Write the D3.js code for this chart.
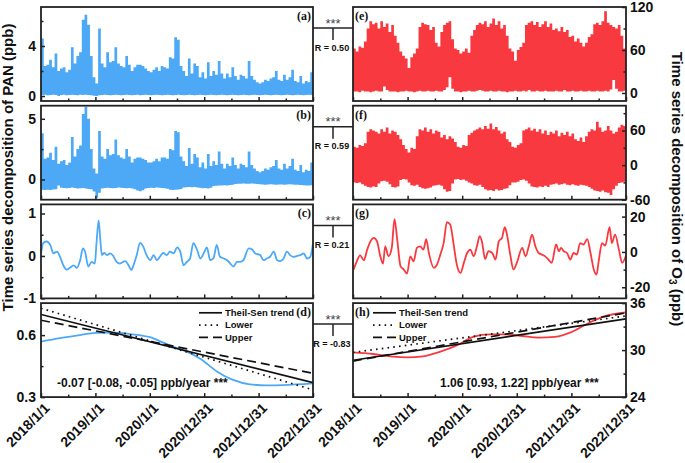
<!DOCTYPE html>
<html lang="en">
<head>
<meta charset="UTF-8">
<title>Time series decomposition of PAN and O3</title>
<script src="https://d3js.org/d3.v7.min.js"></script>
<style>
  body { margin: 0; background: #fff; }
  text { font-family: Arial, "Liberation Sans", sans-serif; font-weight: bold; fill: #111; }
  .tick text { font: bold 14px Arial, "Liberation Sans", sans-serif; fill: #111; }
  .tick line { stroke: #222; stroke-width: 1.5; }
  .plabel { font-family: "Times New Roman", "Liberation Serif", serif; font-size: 12px; }
</style>
</head>
<body>
<svg width="685" height="463"></svg>
<script>
// x tick labels (dates)
const tickLabels = ["2018/1/1", "2019/1/1", "2020/1/1", "2020/12/31", "2021/12/31", "2022/12/31"];

// (a) PAN observed, per-bin max / min (100 bins over 2018-2022, ppb)
const panObsHi = [4.6,2.4,2.5,2.9,2.3,3.4,2.0,2.2,2.3,1.9,
  2.1,3.9,2.6,3.2,3.5,6.1,6.5,5.7,3.2,1.5,
  1.0,5.4,2.6,2.3,3.5,2.7,2.8,3.9,2.6,2.4,
  2.3,3.2,2.5,2.0,2.3,2.5,2.5,2.4,2.2,2.0,
  1.9,2.1,2.3,2.0,2.4,2.3,2.2,3.1,3.0,4.7,
  4.5,2.4,2.0,1.6,3.0,1.8,2.6,2.4,1.5,1.9,
  1.4,2.7,1.6,2.0,1.7,2.8,1.8,1.4,1.8,1.5,
  2.3,1.6,1.3,1.7,1.6,1.4,2.8,1.6,1.3,1.1,
  1.0,1.1,1.3,1.2,1.4,1.5,2.0,1.3,1.2,1.7,
  1.3,1.5,2.1,1.2,1.1,1.6,1.0,1.2,1.1,1.9];
const panObsLo = [0.08,0.1,0.06,0.08,0.1,0.08,0.0,0.08,0.1,0.06,
  0.08,0.1,0.08,0.06,0.1,0.08,0.1,0.08,0.06,0.02,
  0.0,0.06,0.08,0.1,0.08,0.06,0.08,0.1,0.08,0.06,
  0.08,0.1,0.08,0.06,0.08,0.1,0.06,0.08,0.1,0.08,
  0.06,0.08,0.1,0.08,0.06,0.08,0.1,0.08,0.06,0.08,
  0.1,0.08,0.06,0.08,0.1,0.08,0.06,0.08,0.1,0.08,
  0.06,0.08,0.1,0.08,0.06,0.08,0.1,0.08,0.06,0.08,
  0.1,0.08,0.06,0.08,0.1,0.08,0.06,0.08,0.1,0.08,
  0.06,0.08,0.1,0.08,0.06,0.08,0.1,0.08,0.06,0.08,
  0.1,0.08,0.06,0.08,0.1,0.08,0.06,0.08,0.1,0.08];

// (b) PAN detrended (seasonal + residual)
const panDecHi = [3.8,1.7,1.8,2.2,1.6,2.7,1.3,1.5,1.6,1.2,
  1.4,3.5,1.9,2.5,2.8,5.4,6.0,5.0,2.5,0.9,
  0.5,4.0,1.9,1.7,2.5,2.0,2.1,3.3,2.0,1.8,
  1.7,2.5,1.9,1.4,1.7,1.8,1.8,1.7,1.6,1.4,
  1.4,1.5,1.7,1.5,1.8,1.8,1.7,2.5,2.4,4.0,
  3.9,1.9,1.5,1.1,2.6,1.3,2.1,1.8,1.0,1.4,
  0.9,2.1,1.1,1.5,1.2,2.3,1.3,0.9,1.3,1.1,
  1.8,1.2,0.9,1.3,1.2,1.0,2.3,1.2,0.9,0.7,
  0.6,0.7,0.9,0.8,1.0,1.1,1.6,0.9,0.8,1.3,
  0.9,1.1,1.7,0.8,0.7,1.2,0.6,0.8,0.7,1.4];
const panDecLo = [-0.85,-0.88,-0.84,-0.86,-0.82,-0.8,-0.5,-0.68,-0.7,-0.72,
  -0.7,-0.66,-0.7,-0.74,-0.72,-0.7,-0.75,-0.78,-0.8,-1.0,
  -1.5,-1.1,-0.75,-0.7,-0.68,-0.7,-0.72,-0.7,-0.66,-0.68,
  -0.7,-0.72,-0.7,-0.74,-0.8,-0.92,-0.97,-0.9,-0.75,-0.7,
  -0.68,-0.7,-0.66,-0.68,-0.7,-0.72,-0.76,-0.84,-0.86,-0.85,
  -0.82,-0.78,-0.66,-0.64,-0.62,-0.65,-0.63,-0.66,-0.68,-0.72,
  -0.7,-0.74,-0.68,-0.55,-0.52,-0.5,-0.5,-0.48,-0.5,-0.46,
  -0.44,-0.38,-0.36,-0.35,-0.34,-0.36,-0.35,-0.33,-0.36,-0.38,
  -0.4,-0.42,-0.44,-0.42,-0.4,-0.42,-0.43,-0.41,-0.42,-0.44,
  -0.42,-0.4,-0.42,-0.43,-0.44,-0.45,-0.48,-0.5,-0.5,-0.48];

// (c) PAN smoothed residual: decimal year, value
const panResYear = [2018.00,2018.04,2018.10,2018.17,2018.23,2018.29,2018.35,2018.41,2018.47,2018.53,
  2018.60,2018.66,2018.72,2018.77,2018.81,2018.87,2018.93,2018.99,2019.02,2019.06,
  2019.09,2019.12,2019.16,2019.21,2019.27,2019.33,2019.39,2019.45,2019.55,2019.61,
  2019.66,2019.70,2019.76,2019.82,2019.88,2019.94,2020.01,2020.07,2020.13,2020.19,
  2020.25,2020.31,2020.37,2020.44,2020.50,2020.56,2020.62,2020.68,2020.74,2020.80,
  2020.87,2020.93,2020.99,2021.05,2021.11,2021.17,2021.23,2021.29,2021.36,2021.42,
  2021.48,2021.54,2021.60,2021.66,2021.72,2021.82,2021.88,2021.94,2022.03,2022.09,
  2022.15,2022.21,2022.28,2022.34,2022.40,2022.46,2022.52,2022.58,2022.64,2022.71,
  2022.77,2022.83,2022.89,2022.95,2023.00];
const panResValue = [0.06,0.30,0.34,0.26,0.06,0.10,-0.02,-0.22,-0.32,-0.28,
  -0.22,-0.28,-0.10,0.18,0.10,-0.25,-0.14,-0.18,0.30,0.84,
  0.38,0.02,0.07,0.02,0.06,0.00,-0.14,-0.18,-0.12,-0.22,
  -0.33,-0.22,0.02,0.31,0.22,0.02,-0.10,0.02,-0.10,-0.01,
  0.07,0.02,0.10,0.06,0.20,0.10,-0.22,-0.14,-0.06,0.30,
  0.14,-0.06,0.06,0.20,-0.10,-0.06,0.26,-0.02,-0.06,-0.10,
  -0.18,-0.25,-0.14,-0.14,-0.10,0.18,0.15,0.06,0.02,-0.10,
  -0.06,-0.02,0.10,-0.10,-0.12,-0.06,0.10,0.02,-0.02,0.00,
  0.02,0.06,-0.06,-0.02,0.30];

// (d) PAN trend component
const panTrendYear = [2018.0,2018.35,2018.72,2019.0,2019.36,2019.64,2020.0,2020.28,2020.55,2020.68,
  2020.92,2021.24,2021.53,2021.84,2022.15,2022.45,2023.0];
const panTrendValue = [0.568,0.585,0.600,0.611,0.612,0.605,0.590,0.560,0.532,0.520,
  0.487,0.423,0.383,0.362,0.357,0.358,0.366];

// (e) O3 observed, per-bin max / min (ppb)
const o3ObsHi = [62,58,65,63,72,90,100,96,98,90,
  100,92,97,85,95,80,70,58,52,48,
  35,50,55,62,92,98,96,95,88,92,
  70,65,85,95,98,100,75,62,60,55,
  58,62,56,80,88,95,98,96,100,92,
  97,104,95,100,90,95,80,62,58,45,
  60,64,70,95,98,100,95,99,92,96,
  100,92,97,88,90,86,92,85,88,78,
  80,72,76,70,65,70,78,82,96,98,
  95,100,114,98,95,92,90,95,80,62];
const o3ObsLo = [2,2,1,3,2,2,1,2,3,2,
  2,9,4,2,2,2,1,2,2,3,
  2,2,1,2,3,2,2,3,2,2,
  3,2,2,4,8,22,6,2,2,1,
  2,2,3,2,2,3,4,3,2,2,
  3,2,2,3,2,2,1,2,2,3,
  2,2,3,2,4,2,2,3,2,2,
  3,2,2,2,3,2,2,4,2,2,
  3,2,2,3,2,2,3,2,2,3,
  2,2,3,2,5,18,6,2,2,3];

// (f) O3 detrended (seasonal + residual)
const o3DecHi = [32,30,35,33,38,58,62,60,58,55,
  62,58,65,55,60,58,52,45,35,28,
  22,30,28,50,62,60,65,58,62,55,
  60,58,48,52,45,50,46,40,32,30,
  35,33,52,56,60,62,65,62,68,63,
  72,62,66,60,55,58,45,40,32,30,
  35,38,60,62,65,60,63,58,62,55,
  60,52,58,55,60,50,56,52,58,50,
  55,45,42,48,40,50,58,62,60,75,
  65,58,60,68,60,55,58,65,70,68];
const o3DecLo = [-30,-31,-30,-33,-36,-38,-39,-37,-38,-32,
  -28,-27,-29,-33,-38,-39,-37,-26,-24,-25,
  -30,-35,-36,-34,-38,-40,-41,-40,-39,-36,
  -35,-34,-36,-42,-46,-45,-32,-25,-24,-26,
  -25,-27,-30,-32,-35,-36,-34,-38,-42,-44,
  -43,-45,-42,-44,-43,-41,-40,-35,-30,-30,
  -29,-26,-25,-27,-32,-37,-38,-39,-37,-38,
  -36,-38,-34,-33,-32,-34,-33,-32,-34,-35,
  -33,-35,-36,-34,-35,-36,-38,-41,-44,-45,
  -46,-44,-47,-48,-52,-42,-36,-31,-30,-29];

// (g) O3 smoothed residual
const o3ResYear = [2018.01,2018.07,2018.13,2018.20,2018.26,2018.32,2018.38,2018.44,2018.50,2018.55,
  2018.59,2018.65,2018.71,2018.76,2018.81,2018.87,2018.93,2018.99,2019.05,2019.11,
  2019.17,2019.23,2019.29,2019.34,2019.39,2019.48,2019.54,2019.60,2019.66,2019.72,
  2019.78,2019.84,2019.90,2019.97,2020.03,2020.09,2020.15,2020.21,2020.27,2020.32,
  2020.36,2020.42,2020.48,2020.55,2020.61,2020.67,2020.73,2020.78,2020.82,2020.88,
  2020.94,2021.00,2021.10,2021.16,2021.22,2021.28,2021.34,2021.40,2021.46,2021.52,
  2021.58,2021.64,2021.72,2021.77,2021.81,2021.86,2021.92,2021.98,2022.04,2022.10,
  2022.16,2022.22,2022.29,2022.35,2022.41,2022.46,2022.50,2022.56,2022.62,2022.70,
  2022.74,2022.80,2022.87,2022.93,2023.00];
const o3ResValue = [-10,-5.3,-2,-4.7,1.3,6,8,6,-2.5,-6.6,
  3.2,-2.5,2.3,18.6,7,-8,-10,-12.3,-2.5,-5.3,
  2.3,3.2,1.3,7.3,-0.6,-9,-7,-1.5,5,16.8,
  15.5,5,-7,-11.9,-6.2,-0.6,1.3,-2.5,3.2,8.9,
  6,-4,0.4,-0.6,-4.3,6,8,14,9.8,-1.5,
  -10,-6.2,2.3,-2.5,3.2,9.8,3.2,-0.6,-1.5,-2.5,
  -4.3,-6.2,4.2,0.4,2.3,0.4,-0.6,-4.3,-0.6,-1.5,
  5,4.2,7.3,-0.6,-10,-12.8,-5.3,5,3.6,14,
  5,9.8,1.3,-6.2,-2];

// (h) O3 trend component
const o3TrendYear = [2018.0,2018.37,2018.68,2019.0,2019.28,2019.6,2019.9,2020.2,2020.5,2020.8,
  2021.1,2021.4,2021.7,2022.0,2022.3,2022.6,2023.0];
const o3TrendValue = [29.7,29.5,29.2,29.07,29.2,29.8,30.6,31.7,32.0,32.0,
  31.8,31.6,31.7,32.3,33.4,34.3,34.8];

// Theil-Sen fits: value at start and end of the record (trend, lower, upper)
const senLabels = ["Theil-Sen trend", "Lower", "Upper"];
const panSenStart = [0.70, 0.73, 0.672];
const panSenEnd = [0.37, 0.335, 0.415];
const o3SenStart = [28.7, 29.7, 28.6];
const o3SenEnd = [34.0, 34.35, 34.75];
const panSlopeText = "-0.07 [-0.08, -0.05] ppb/year ***";
const o3SlopeText = "1.06 [0.93, 1.22] ppb/year ***";

// correlation between PAN and O3 components
const rValues = ["0.50", "0.59", "0.21", "-0.83"];

const blue = "#4da9f5", red = "#f83a40", ink = "#222";
const svg = d3.select("svg");
const parse = d3.timeParse("%Y/%m/%d");
const tickDates = tickLabels.map(parse);
const minorDates = d3.pairs(tickDates).map(([a, b]) => new Date((+a + +b) / 2));
const t0 = tickDates[0], t1 = tickDates[tickDates.length - 1];
const dateOf = yr => new Date(+t0 + (yr - 2018) / 5 * (t1 - t0));
const binDate = (i, n) => new Date(+t0 + i / n * (t1 - t0));

const top0 = 7, rowStep = 98.7, ph = 94;
const colX = [[41, 313], [353, 626]];
const dashes = [null, "1.6,4.2", "9,5"];

function panel(col, row, yDomain, major, minor) {
  const [x0, x1] = colX[col];
  const top = top0 + row * rowStep;
  const x = d3.scaleTime().domain([t0, t1]).range([x0, x1]);
  const y = d3.scaleLinear().domain(yDomain).range([top + ph, top]);
  const id = `clip${col}${row}`;
  svg.append("clipPath").attr("id", id)
    .append("rect").attr("x", x0).attr("y", top).attr("width", x1 - x0).attr("height", ph);
  const g = svg.append("g").attr("clip-path", `url(#${id})`);
  const axisY = col === 0 ? d3.axisLeft : d3.axisRight;
  const ax = col === 0 ? x0 : x1;
  svg.append("g").attr("transform", `translate(${ax},0)`)
    .call(axisY(y).tickValues(major).tickSize(-4).tickPadding(col === 0 ? 5 : 4).tickFormat(d => String(d)))
    .call(s => s.select(".domain").remove());
  svg.append("g").attr("transform", `translate(${ax},0)`)
    .call(axisY(y).tickValues(minor).tickSize(-2.5).tickFormat(""))
    .call(s => s.select(".domain").remove());
  const xa = svg.append("g").attr("transform", `translate(0,${top + ph})`)
    .call(d3.axisBottom(x).tickValues(tickDates).tickSize(-4)
      .tickFormat((d, i) => row === 3 ? tickLabels[i] : ""))
    .call(s => s.select(".domain").remove());
  xa.selectAll("text").attr("x", 0).attr("y", 0).attr("dy", 0)
    .attr("text-anchor", "end").attr("transform", "translate(9,12) rotate(-45)");
  svg.append("g").attr("transform", `translate(0,${top + ph})`)
    .call(d3.axisBottom(x).tickValues(minorDates).tickSize(-2.5).tickFormat(""))
    .call(s => s.select(".domain").remove());
  return { x, y, g, top, x0, x1 };
}

// per-bin max/min envelope as one stepped area (no seams between bins)
function bars(p, hi, lo, color) {
  const n = hi.length;
  const idx = d3.range(n + 1);
  const area = d3.area()
    .x(i => p.x(binDate(i, n)))
    .y0(i => p.y(lo[Math.min(i, n - 1)]))
    .y1(i => p.y(hi[Math.min(i, n - 1)]))
    .curve(d3.curveStepAfter);
  p.g.append("path").datum(idx).attr("d", area).attr("fill", color);
}

function curve(p, years, values, color) {
  const line = d3.line().x(d => p.x(dateOf(d[0]))).y(d => p.y(d[1])).curve(d3.curveMonotoneX);
  p.g.append("path").datum(d3.zip(years, values))
    .attr("d", line).attr("fill", "none").attr("stroke", color).attr("stroke-width", 1.8);
}

function sen(p, starts, ends) {
  starts.forEach((s, i) => {
    p.g.append("line")
      .attr("x1", p.x(t0)).attr("x2", p.x(t1))
      .attr("y1", p.y(s)).attr("y2", p.y(ends[i]))
      .attr("stroke", "#111").attr("stroke-width", 1.7)
      .attr("stroke-dasharray", dashes[i]);
  });
}

function legend(lx, top) {
  senLabels.forEach((lab, i) => {
    const by = top + 13 + i * 12.3;
    svg.append("line").attr("x1", lx).attr("x2", lx + 23).attr("y1", by - 3.3).attr("y2", by - 3.3)
      .attr("stroke", "#111").attr("stroke-width", 1.7).attr("stroke-dasharray", dashes[i]);
    svg.append("text").attr("x", lx + 26).attr("y", by).attr("font-size", 9.5).text(lab);
  });
}

function frame(p) {
  svg.append("rect").attr("x", p.x0).attr("y", p.top).attr("width", p.x1 - p.x0).attr("height", ph)
    .attr("fill", "none").attr("stroke", ink).attr("stroke-width", 1.8);
}

const pa = panel(0, 0, [-0.4, 7.12], [0, 4], [2, 6]);
bars(pa, panObsHi, panObsLo, blue);
const pb = panel(0, 1, [-1.67, 6.08], [0, 5], [2.5]);
bars(pb, panDecHi, panDecLo, blue);
const pc = panel(0, 2, [-1, 1.214], [-1, 0, 1], [-0.5, 0.5]);
curve(pc, panResYear, panResValue, blue);
const pd = panel(0, 3, [0.3, 0.755], [0.3, 0.6], [0.45]);
curve(pd, panTrendYear, panTrendValue, blue);
sen(pd, panSenStart, panSenEnd);

const pe = panel(1, 0, [-11.2, 120], [0, 60, 120], [30, 90]);
bars(pe, o3ObsHi, o3ObsLo, red);
const pf = panel(1, 1, [-60, 103], [-60, 0, 60], [-30, 30, 90]);
bars(pf, o3DecHi, o3DecLo, red);
const pg = panel(1, 2, [-26.3, 26.9], [-20, 0, 20], [-10, 10]);
curve(pg, o3ResYear, o3ResValue, red);
const ph2 = panel(1, 3, [24, 36], [24, 30, 36], [27, 33]);
curve(ph2, o3TrendYear, o3TrendValue, red);
sen(ph2, o3SenStart, o3SenEnd);

const leftPanels = [pa, pb, pc, pd], rightPanels = [pe, pf, pg, ph2];
leftPanels.concat(rightPanels).forEach(frame);

legend(199, pd.top);
legend(373, ph2.top);

svg.append("text").attr("x", 57).attr("y", pd.top + 84).attr("font-size", 12).text(panSlopeText);
svg.append("text").attr("x", 440).attr("y", ph2.top + 84).attr("font-size", 12).text(o3SlopeText);

// panel letters
"abcd".split("").forEach((c, i) => {
  svg.append("text").attr("class", "plabel").attr("x", 311).attr("y", leftPanels[i].top + 13)
    .attr("text-anchor", "end").text(`(${c})`);
});
"efgh".split("").forEach((c, i) => {
  svg.append("text").attr("class", "plabel").attr("x", 355).attr("y", rightPanels[i].top + 13)
    .text(`(${c})`);
});

// connectors with correlation
rValues.forEach((r, i) => {
  const top = leftPanels[i].top, ly = top + 21, mx = 333;
  svg.append("line").attr("x1", colX[0][1]).attr("x2", colX[1][0]).attr("y1", ly).attr("y2", ly)
    .attr("stroke", ink).attr("stroke-width", 1.5);
  svg.append("line").attr("x1", mx).attr("x2", mx).attr("y1", ly).attr("y2", top + 33)
    .attr("stroke", ink).attr("stroke-width", 1.5);
  svg.append("text").attr("x", mx).attr("y", top + 20.5).attr("text-anchor", "middle")
    .attr("font-size", 13).style("font-weight", "normal")
    .style("fill", "#444").text("***");
  svg.append("text").attr("x", 332).attr("y", top + 43.7).attr("text-anchor", "middle")
    .attr("font-size", 9).text(`R = ${r}`);
});

// axis titles
svg.append("text").attr("transform", "translate(13,167.5) rotate(-90)")
  .attr("text-anchor", "middle").attr("font-size", 15)
  .text("Time series decomposition of PAN (ppb)");
const rt = svg.append("text").attr("transform", "translate(671.5,189) rotate(90)")
  .attr("text-anchor", "middle").attr("font-size", 15);
rt.append("tspan").text("Time series decomposition of O");
rt.append("tspan").attr("font-size", 10).attr("dy", 3).text("3");
rt.append("tspan").attr("dy", -3).text(" (ppb)");
</script>
</body>
</html>
